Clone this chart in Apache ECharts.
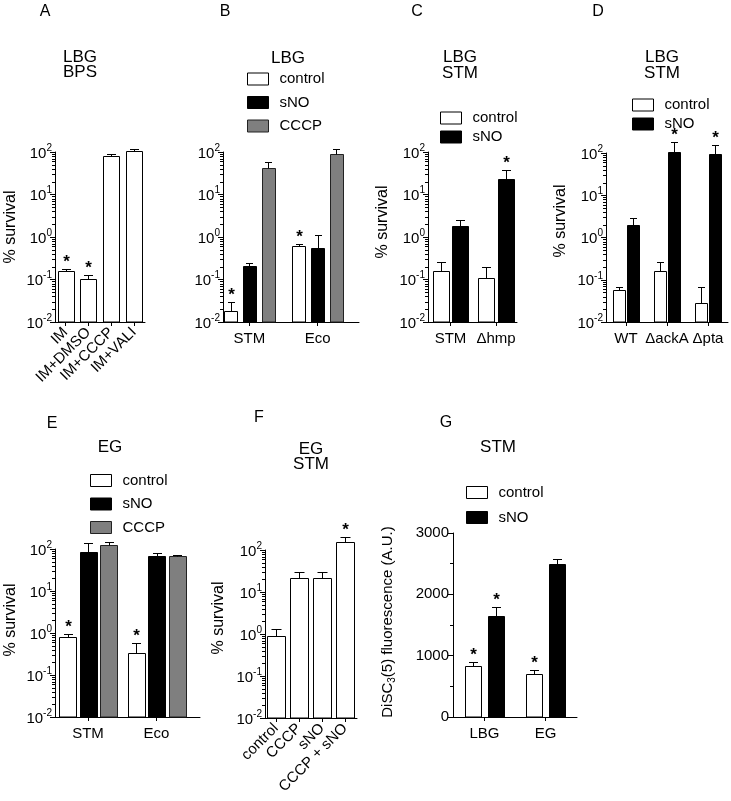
<!DOCTYPE html>
<html><head><meta charset="utf-8">
<script src="https://cdn.jsdelivr.net/npm/echarts@6/dist/echarts.min.js"></script>
<style>html,body{margin:0;padding:0;background:#fff}#c{width:731px;height:801px}</style>
</head><body><div id="c"></div>
<script>
// ---------------- data ----------------
const catsA = ['IM', 'IM+DMSO', 'IM+CCCP', 'IM+VALI'];
const survA = [0.155, 0.105, 82, 106];
const errA = [0.18, 0.13, 88, 120];
const starA = [1, 1, 0, 0];

const catsB = ['STM', 'Eco'];
const ctrlB = [0.018, 0.6], ctrlErrB = [0.029, 0.7], ctrlStarB = [1, 1];
const snoB = [0.21, 0.55], snoErrB = [0.25, 1.1], snoStarB = [0, 0];
const cccpB = [43, 90], cccpErrB = [57, 120], cccpStarB = [0, 0];

const catsC = ['STM', 'Δhmp'];
const ctrlC = [0.16, 0.11], ctrlErrC = [0.26, 0.2], ctrlStarC = [0, 0];
const snoC = [1.85, 23], snoErrC = [2.5, 38], snoStarC = [0, 1];

const catsD = ['WT', 'ΔackA', 'Δpta'];
const ctrlD = [0.056, 0.16, 0.028], ctrlErrD = [0.067, 0.27, 0.067], ctrlStarD = [0, 0, 0];
const snoD = [1.95, 105, 93], snoErrD = [2.95, 180, 153], snoStarD = [0, 1, 1];

const catsE = ['STM', 'Eco'];
const ctrlE = [0.8, 0.33], ctrlErrE = [0.93, 0.57], ctrlStarE = [1, 1];
const snoE = [86, 69], snoErrE = [137, 79], snoStarE = [0, 0];
const cccpE = [122, 68], cccpErrE = [145, 73], cccpStarE = [0, 0];

const catsF = ['control', 'CCCP', 'sNO', 'CCCP + sNO'];
const survF = [0.9, 21, 21, 155];
const errF = [1.3, 30, 30, 200];
const starF = [0, 0, 0, 1];

const catsG = ['LBG', 'EG'];
const ctrlG = [830, 700], ctrlErrG = [890, 760], ctrlStarG = [1, 1];
const snoG = [1645, 2490], snoErrG = [1790, 2575], snoStarG = [1, 0];

const logTicks = [0.01, 0.1, 1, 10, 100];
const logMinorTicks = [];
for (const d of [0.01, 0.1, 1, 10]) for (let m = 2; m <= 9; m++) logMinorTicks.push(+(m * d).toPrecision(3));
const linTicksG = [0, 1000, 2000, 3000];

// ---------------- styles ----------------
const FONT = "'Liberation Sans', Arial, Helvetica, sans-serif";
const STY = {
  control: { fill: '#ffffff', stroke: '#000000' },
  sNO: { fill: '#000000', stroke: '#000000' },
  CCCP: { fill: '#7f7f7f', stroke: '#222222' },
  plain: { fill: '#ffffff', stroke: '#000000' }
};

const grids = [], xAxes = [], yAxes = [], series = [], legends = [], graphics = [];

function addPanel(p) {
  const gi = grids.length;
  grids.push({ left: p.L, top: p.T, width: p.R - p.L, height: p.B - p.T, containLabel: false });
  const idx = p.cats.map((_, i) => i);
  const xmin = (p.L - p.c0) / p.step, xmax = (p.R - p.c0) / p.step;
  xAxes.push({
    type: 'value', gridIndex: gi, min: xmin, max: xmax,
    axisLine: { show: true, onZero: false, lineStyle: { color: '#000', width: 1 } },
    axisTick: { show: true, length: 4, customValues: idx, lineStyle: { color: '#000' } },
    axisLabel: {
      customValues: idx, formatter: v => p.cats[Math.round(v)],
      rotate: p.rot || 0, margin: p.rot ? 8 : 9,
      color: '#000', fontSize: 15, fontFamily: FONT
    },
    splitLine: { show: false }
  });
  const yi = yAxes.length;
  if (p.log) {
    yAxes.push({
      type: 'log', logBase: 10, gridIndex: gi, min: 0.01, max: 100, position: 'left',
      axisLine: { show: true, onZero: false, lineStyle: { color: '#000', width: 1 } },
      axisTick: { show: true, length: 5, customValues: logTicks, lineStyle: { color: '#000' } },
      axisLabel: {
        customValues: logTicks, margin: 3,
        formatter: v => '{b|10}{s|' + Math.round(Math.log10(v)) + '}',
        rich: {
          b: { fontSize: 15, fontFamily: FONT, color: '#000', lineHeight: 18, verticalAlign: 'bottom' },
          s: { fontSize: 10, fontFamily: FONT, color: '#000', lineHeight: 10, verticalAlign: 'top' }
        }
      },
      splitLine: { show: false }
    });
    // minor log ticks (2..9 per decade) placed through the log axis scale
    series.push({
      type: 'custom', xAxisIndex: gi, yAxisIndex: yi, silent: true, clip: false, z: 5,
      data: logMinorTicks.map(v => [xmin, v]),
      renderItem: (params, api) => {
        const c = api.coord([api.value(0), api.value(1)]);
        const x = Math.round(c[0]);
        const y = Math.round(c[1]) + 0.5;
        return { type: 'line', shape: { x1: x - 3, y1: y, x2: x, y2: y }, style: { stroke: '#000', lineWidth: 1 } };
      }
    });
  } else {
    yAxes.push({
      type: 'value', gridIndex: gi, min: 0, max: 3000, interval: 1000, position: 'left',
      axisLine: { show: true, onZero: false, lineStyle: { color: '#000', width: 1 } },
      axisTick: { show: true, length: 5, lineStyle: { color: '#000' } },
      minorTick: { show: true, splitNumber: 2, length: 3, lineStyle: { color: '#000' } },
      axisLabel: { margin: 4, color: '#000', fontSize: 15, fontFamily: FONT, formatter: v => String(v) },
      splitLine: { show: false }
    });
  }
  const base = p.log ? 0.01 : 0;
  const n = p.groups.length;
  p.groups.forEach((g, k) => {
    const st = STY[g.style];
    series.push({
      type: 'custom', name: g.name, xAxisIndex: gi, yAxisIndex: yi,
      clip: false,
      data: g.vals.map((v, i) => [i, v, g.errs[i], g.stars[i]]),
      itemStyle: { color: st.fill, borderColor: st.stroke, borderWidth: 1 },
      renderItem: (params, api) => {
        const i = api.value(0), v = api.value(1), e = api.value(2), s = api.value(3);
        const c = api.coord([i, v]);
        const y0 = api.coord([i, base])[1];
        const ye = api.coord([i, e])[1];
        const cx = c[0] + (k - (n - 1) / 2) * p.inner;
        const x0 = Math.round(cx - p.barW / 2) + 0.5;
        const top = Math.round(c[1]) + 0.5;
        const xc = Math.round(cx) + 0.5;
        const yt = Math.round(ye) + 0.5;
        const cap = Math.max(6, Math.round(p.barW * 0.55));
        const children = [
          { type: 'rect', shape: { x: x0, y: top, width: p.barW, height: y0 - top },
            style: { fill: st.fill, stroke: st.stroke, lineWidth: 1 } },
          { type: 'line', shape: { x1: xc, y1: top, x2: xc, y2: yt }, style: { stroke: '#000', lineWidth: 1 } },
          { type: 'line', shape: { x1: xc - cap / 2, y1: yt, x2: xc + cap / 2, y2: yt }, style: { stroke: '#000', lineWidth: 1 } }
        ];
        if (s) children.push({ type: 'text', x: xc, y: yt - 7,
          style: { text: '*', fill: '#000', font: 'bold 17px ' + FONT, align: 'center', verticalAlign: 'middle' } });
        return { type: 'group', children };
      }
    });
  });
  if (p.legend) {
    legends.push({
      orient: 'vertical', left: p.legend.x, top: p.legend.y, itemWidth: 21, itemHeight: 12,
      itemGap: p.legend.gap, icon: 'rect', selectedMode: false, padding: 0,
      textStyle: { fontSize: 15, color: '#000', fontFamily: FONT, padding: [0, 0, 0, 6] },
      data: p.groups.map(g => ({ name: g.name, icon: 'rect',
        itemStyle: { color: STY[g.style].fill, borderColor: STY[g.style].stroke, borderWidth: 1 } }))
    });
  }
  p.titles.forEach(t => graphics.push({ type: 'text', x: t[1], y: t[2],
    style: { text: t[0], font: '17px ' + FONT, fill: '#000', align: 'center', verticalAlign: 'middle' } }));
  graphics.push({ type: 'text', x: p.letter[1], y: p.letter[2],
    style: { text: p.letter[0], font: '16px ' + FONT, fill: '#000', align: 'center', verticalAlign: 'middle' } });
  if (p.yname) graphics.push({ type: 'text', x: p.yname[1], y: p.yname[2], rotation: Math.PI / 2,
    style: { text: p.yname[0], font: p.yname[3] + 'px ' + FONT, fill: '#000', align: 'center', verticalAlign: 'middle',
      rich: { sub: { fontSize: 10, fontFamily: FONT, fill: '#000', verticalAlign: 'bottom', padding: [8, 0, 0, 0] } } } });
}

const G = (name, style, vals, errs, stars) => ({ name, style, vals, errs, stars });

addPanel({ L: 55, R: 145, T: 152, B: 322, c0: 65.5, step: 22.8, barW: 16, inner: 0, log: true, rot: 45,
  cats: catsA, yname: ['% survival', 11, 227, 16],
  groups: [G('IM', 'plain', survA, errA, starA)],
  titles: [['LBG', 80, 57], ['BPS', 80, 72]], letter: ['A', 45, 12] });

addPanel({ L: 223, R: 359, T: 152, B: 322, c0: 249.3, step: 68.3, barW: 13, inner: 18.7, log: true,
  cats: catsB,
  groups: [G('control', 'control', ctrlB, ctrlErrB, ctrlStarB), G('sNO', 'sNO', snoB, snoErrB, snoStarB), G('CCCP', 'CCCP', cccpB, cccpErrB, cccpStarB)],
  legend: { x: 247, y: 71.5, gap: 8.5 },
  titles: [['LBG', 288, 58]], letter: ['B', 225, 12] });

addPanel({ L: 428, R: 517, T: 152, B: 322, c0: 450.5, step: 45.5, barW: 16, inner: 19.5, log: true,
  cats: catsC, yname: ['% survival', 383, 222, 16],
  groups: [G('control', 'control', ctrlC, ctrlErrC, ctrlStarC), G('sNO', 'sNO', snoC, snoErrC, snoStarC)],
  legend: { x: 440, y: 110.5, gap: 4 },
  titles: [['LBG', 460, 57], ['STM', 460, 73]], letter: ['C', 417, 12] });

addPanel({ L: 606, R: 728, T: 153, B: 322, c0: 626, step: 41, barW: 12, inner: 14.5, log: true,
  cats: catsD, yname: ['% survival', 561, 221, 16],
  groups: [G('control', 'control', ctrlD, ctrlErrD, ctrlStarD), G('sNO', 'sNO', snoD, snoErrD, snoStarD)],
  legend: { x: 632, y: 97.5, gap: 4 },
  titles: [['LBG', 662, 57], ['STM', 662, 73]], letter: ['D', 598, 12] });

addPanel({ L: 55, R: 200, T: 549, B: 717, c0: 88, step: 68.5, barW: 17, inner: 20.5, log: true,
  cats: catsE, yname: ['% survival', 11, 620, 16],
  groups: [G('control', 'control', ctrlE, ctrlErrE, ctrlStarE), G('sNO', 'sNO', snoE, snoErrE, snoStarE), G('CCCP', 'CCCP', cccpE, cccpErrE, cccpStarE)],
  legend: { x: 90, y: 473, gap: 8.5 },
  titles: [['EG', 110, 447]], letter: ['E', 52, 424] });

addPanel({ L: 265, R: 357, T: 550, B: 718, c0: 276, step: 23, barW: 18, inner: 0, log: true, rot: 45,
  cats: catsF, yname: ['% survival', 219, 618, 16],
  groups: [G('F', 'plain', survF, errF, starF)],
  titles: [['EG', 311, 449], ['STM', 311, 464]], letter: ['F', 259, 418] });

addPanel({ L: 453, R: 577, T: 533, B: 717, c0: 484.5, step: 61, barW: 16, inner: 23, log: false,
  cats: catsG, yname: ['DiSC{sub|3}(5) fluorescence (A.U.)', 388, 622, 15],
  groups: [G('control', 'control', ctrlG, ctrlErrG, ctrlStarG), G('sNO', 'sNO', snoG, snoErrG, snoStarG)],
  legend: { x: 466, y: 485, gap: 10 },
  titles: [['STM', 498, 447]], letter: ['G', 446, 423] });

const chart = echarts.init(document.getElementById('c'), null, { renderer: 'canvas' });
chart.setOption({
  backgroundColor: '#ffffff', animation: false,
  grid: grids, xAxis: xAxes, yAxis: yAxes, series, legend: legends,
  graphic: { elements: graphics }
});
</script></body></html>
